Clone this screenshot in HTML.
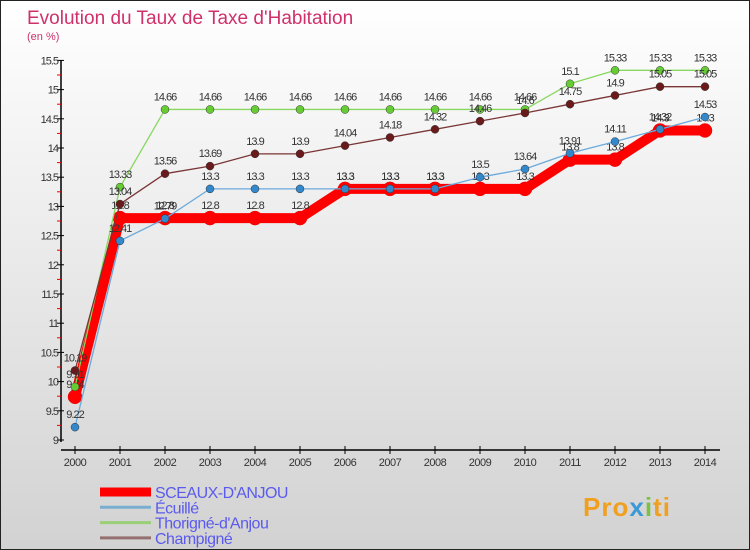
<!DOCTYPE html>
<html><head><meta charset="utf-8"><style>
body{margin:0;width:750px;height:550px;overflow:hidden}
svg{display:block;font-family:"Liberation Sans",sans-serif}
</style></head><body>
<svg id="c" width="750" height="550" xmlns="http://www.w3.org/2000/svg">
<defs><linearGradient id="bg" x1="0" y1="0" x2="0" y2="1"><stop offset="0" stop-color="#ffffff"/><stop offset="1" stop-color="#d2d2d2"/></linearGradient></defs>
<rect x="0.5" y="0.5" width="749" height="549" fill="url(#bg)" stroke="#222"/>
<text x="27" y="24" font-size="19" fill="#d0306a">Evolution du Taux de Taxe d'Habitation</text>
<text x="27" y="40" font-size="11" fill="#d0306a">(en %)</text>
<g id="axes"></g><g id="series"></g><g id="legend"></g>
<text x="583" y="516" font-size="26" font-weight="bold" fill="#f0a020" letter-spacing="1">Pro<tspan fill="#3a9ad9">x</tspan><tspan fill="#7bc142">i</tspan>ti</text>
</svg>
<script>
const years=[2000,2001,2002,2003,2004,2005,2006,2007,2008,2009,2010,2011,2012,2013,2014];
const yTicks=[9,9.5,10,10.5,11,11.5,12,12.5,13,13.5,14,14.5,15,15.5];
const sceaux=[9.74,12.8,12.8,12.8,12.8,12.8,13.3,13.3,13.3,13.3,13.3,13.8,13.8,14.3,14.3];
const ecuille=[9.22,12.41,12.79,13.3,13.3,13.3,13.3,13.3,13.3,13.5,13.64,13.91,14.11,14.32,14.53];
const thorigne=[9.91,13.33,14.66,14.66,14.66,14.66,14.66,14.66,14.66,14.66,14.66,15.1,15.33,15.33,15.33];
const champigne=[10.19,13.04,13.56,13.69,13.9,13.9,14.04,14.18,14.32,14.46,14.6,14.75,14.9,15.05,15.05];
const names=["SCEAUX-D'ANJOU","Écuillé","Thorigné-d'Anjou","Champigné"];
const NS="http://www.w3.org/2000/svg";
const X=i=>75+45*i, Y=v=>440-(v-9)*58.4;
function mk(p,t,a){const e=document.createElementNS(NS,t);for(const k in a)e.setAttribute(k,a[k]);p.appendChild(e);return e;}
const ax=document.getElementById('axes');
let l=mk(ax,'line',{x1:61,y1:60,x2:61,y2:442,stroke:'#000','stroke-width':1.5});

l=mk(ax,'line',{x1:61,y1:450,x2:720,y2:450,stroke:'#000','stroke-width':1.5});

yTicks.forEach(v=>{const y=Y(v);
 mk(ax,'line',{x1:57,y1:y,x2:64,y2:y,stroke:'#000'});
 if(v<15.5)mk(ax,'line',{x1:57,y1:y-14.6,x2:61,y2:y-14.6,stroke:'#e00'});
 const t=mk(ax,'text',{x:58,y:y+4,'text-anchor':'end','font-size':11,fill:'#333','letter-spacing':-1});
 t.textContent=v;});
years.forEach((yr,i)=>{mk(ax,'line',{x1:X(i),y1:446,x2:X(i),y2:454,stroke:'#000'});
 const t=mk(ax,'text',{x:X(i),y:466,'text-anchor':'middle','font-size':11,fill:'#333','letter-spacing':-0.5});
 t.textContent=yr;});
const sg=document.getElementById('series');
const cfg=[[sceaux,'#ff0000',10,7,'#ff0000'],[thorigne,'#88d860',1.3,4,'#66cc33'],[champigne,'#7a3535',1.3,4,'#6a1a1a'],[ecuille,'#6aaadd',1.3,4,'#3388cc']];
const nm=['series-sceaux','series-thorigne','series-champigne','series-ecuille'];
cfg.forEach((c,si)=>{const g=mk(sg,'g',{});
 
 const p=mk(g,'polyline',{points:c[0].map((v,i)=>X(i)+','+Y(v)).join(' '),fill:'none',stroke:c[1],'stroke-width':c[2],'stroke-linejoin':'round'});
 
 c[0].forEach((v,i)=>{const d=mk(g,'circle',{cx:X(i),cy:Y(v),r:c[3],fill:c[4],stroke:si==0?'#e00':'#333','stroke-width':0.5});
  
  const t=mk(g,'text',{x:X(i),y:Y(v)-9,'text-anchor':'middle','font-size':11,fill:'#333','letter-spacing':-1});
  t.textContent=v;});});
const lg=document.getElementById('legend');
const lc=[['#ff0000',9],['#7aaed0',3],['#99d077',3],['#957070',3]];
names.forEach((n,i)=>{const y=492+15.3*i;
 const g=mk(lg,'g',{});
 mk(g,'line',{x1:100,y1:y,x2:151,y2:y,stroke:lc[i][0],'stroke-width':lc[i][1]});
 const t=mk(g,'text',{x:155,y:y+6,'font-size':16,fill:'#5a5aee','letter-spacing':-0.5});t.textContent=n;});
</script>
</body></html>
